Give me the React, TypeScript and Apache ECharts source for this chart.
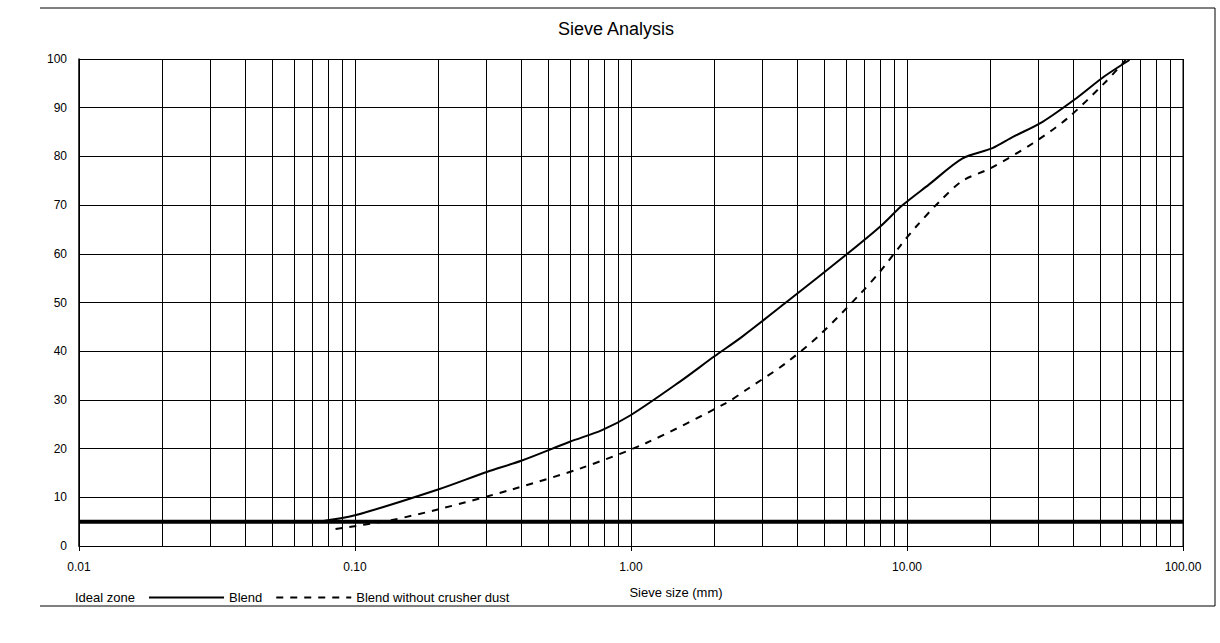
import React, { useEffect, useRef } from "react";
import * as echarts from "echarts";

const FONT = "Liberation Sans, Arial, sans-serif";

// Sieve size (mm) vs. percentage passing
const blend: [number, number][] = [
  [0.074, 5], [0.1, 6.3], [0.2, 11.6], [0.3, 15.2], [0.4, 17.5], [0.6, 21.4],
  [0.785, 23.8], [1, 26.9], [1.5, 33.7], [2, 38.9], [2.53, 43], [3.7, 50.3],
  [6.08, 60], [8, 65.6], [9.6, 69.9], [12, 74.2], [15.9, 79.6], [20.4, 81.7],
  [24.2, 84], [31, 87.1], [41, 91.9], [51.8, 96.4], [64, 99.8],
];
const blendNoDust: [number, number][] = [
  [0.085, 3.5], [0.135, 5.3], [0.206, 7.7], [0.37, 11.6], [0.66, 16],
  [1.13, 21.1], [2.2, 29.3], [2.67, 32.4], [3.63, 37.5], [4.86, 43.5],
  [6.8, 51.9], [8.03, 56.5], [9.5, 61.8], [10.8, 65.6], [13.1, 70.7],
  [15.9, 75], [20.1, 77.6], [28.6, 82.7], [38.1, 87.8], [51.8, 95], [62, 99.8],
];
const idealZone: [number, number][] = [[0.01, 5], [100, 5]];

const decades = [0.01, 0.1, 1, 10];
const minorMultipliers = [2, 3, 4, 5, 6, 7, 8, 9];

export default function App() {
  const ref = useRef<HTMLDivElement>(null);
  useEffect(() => {
    if (!ref.current) return;
    const chart = echarts.init(ref.current, null, { renderer: "svg" });
    const minorLines: { xAxis: number }[] = [];
    decades.forEach((d) =>
      minorMultipliers.forEach((m) => minorLines.push({ xAxis: +(d * m).toPrecision(3) }))
    );
    chart.setOption({
      animation: false,
      backgroundColor: "#fff",
      title: {
        text: "Sieve Analysis",
        left: 611,
        textAlign: "center",
        top: 15,
        textStyle: { fontFamily: FONT, fontSize: 18, fontWeight: "normal", color: "#000" },
      },
      legend: {
        left: -10,
        top: 586,
        itemWidth: 75,
        itemHeight: 10,
        itemGap: 13,
        itemStyle: { opacity: 0 },
        data: [
          { name: "Ideal zone", icon: "none" },
          "Blend",
          "Blend without crusher dust",
        ],
        textStyle: { fontFamily: FONT, fontSize: 13, color: "#000" },
      },
      grid: { left: 79, right: 37, top: 59, bottom: 97 },
      xAxis: {
        type: "log",
        logBase: 10,
        min: 0.01,
        max: 100,
        name: "Sieve size (mm)",
        nameLocation: "middle",
        nameGap: 40,
        nameTextStyle: { fontFamily: FONT, fontSize: 13, color: "#000", padding: [0, 0, 0, 90] },
        axisLine: { show: true, lineStyle: { color: "#000", width: 1 } },
        axisTick: { show: true, length: 5, lineStyle: { color: "#000" } },
        axisLabel: {
          fontFamily: FONT,
          fontSize: 12,
          color: "#000",
          margin: 15,
          formatter: (v: number) => v.toFixed(2),
        },
        splitLine: { show: true, lineStyle: { color: "#000", width: 1 } },
      },
      yAxis: {
        type: "value",
        min: 0,
        max: 100,
        interval: 10,
        axisLine: { show: true, lineStyle: { color: "#000", width: 1.5 } },
        axisTick: { show: false },
        axisLabel: { fontFamily: FONT, fontSize: 12, color: "#000", margin: 12 },
        splitLine: { show: true, lineStyle: { color: "#000", width: 1 } },
      },
      graphic: [
        {
          type: "polyline",
          silent: true,
          shape: { points: [[40, 8], [1215, 8], [1215, 606], [40, 606]] },
          style: { stroke: "#000", lineWidth: 1, fill: "none" },
        },
        {
          type: "line",
          silent: true,
          shape: { x1: 1183, y1: 59, x2: 1183, y2: 546 },
          style: { stroke: "#000", lineWidth: 1 },
        },
      ],
      series: [
        {
          name: "Ideal zone",
          type: "line",
          data: idealZone,
          symbol: "none",
          lineStyle: { color: "#000", width: 4 },
          itemStyle: { color: "#000" },
          markLine: {
            silent: true,
            symbol: "none",
            label: { show: false },
            lineStyle: { color: "#000", width: 1, type: "solid" },
            data: minorLines,
          },
        },
        {
          name: "Blend",
          type: "line",
          data: blend,
          symbol: "none",
          smooth: 0.3,
          lineStyle: { color: "#000", width: 2 },
          itemStyle: { color: "#000" },
        },
        {
          name: "Blend without crusher dust",
          type: "line",
          data: blendNoDust,
          symbol: "none",
          smooth: 0.3,
          lineStyle: { color: "#000", width: 2, type: [7, 7] },
          itemStyle: { color: "#000" },
        },
      ],
    });
    return () => chart.dispose();
  }, []);
  return (
    <div
      ref={ref}
      style={{ position: "absolute", left: 0, top: 0, width: 1220, height: 643 }}
    />
  );
}
